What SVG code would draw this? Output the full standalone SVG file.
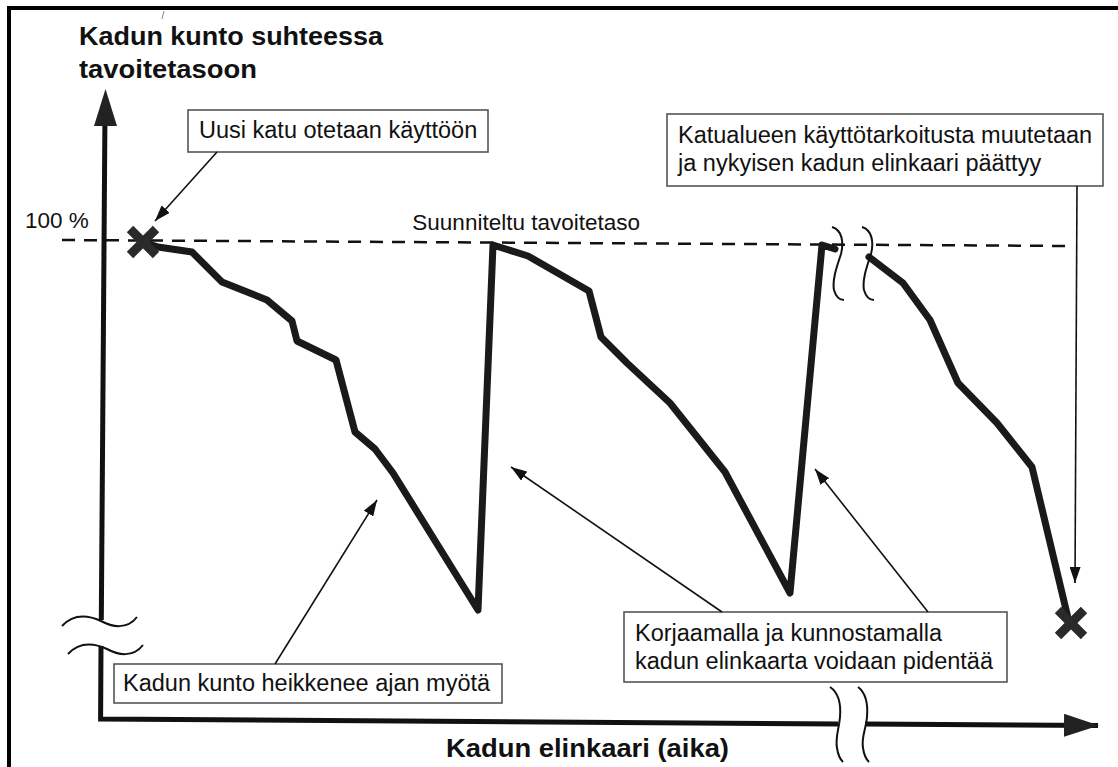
<svg xmlns="http://www.w3.org/2000/svg" width="1118" height="767" viewBox="0 0 1118 767">
  <style>
    .label { font-family: "Liberation Sans", Arial, sans-serif; font-size: 23.5px; fill: #111; }
    .small { font-family: "Liberation Sans", Arial, sans-serif; font-size: 22.5px; fill: #111; }
    .title { font-family: "Liberation Sans", Arial, sans-serif; font-size: 25px; font-weight: bold; fill: #111; }
    .box { fill: #fff; stroke: #555; stroke-width: 1.6; }
    .leader { fill: none; stroke: #111; stroke-width: 1.6; }
    .axis { fill: none; stroke: #111; stroke-width: 5; }
    .curve { fill: none; stroke: #1a1a1a; stroke-width: 7; stroke-linejoin: round; stroke-linecap: round; }
    .brk { fill: none; stroke: #111; stroke-width: 2; }
    .cross { stroke: #2a2a2a; stroke-width: 9; }
    .target { fill: none; stroke: #111; stroke-width: 2.5; stroke-dasharray: 13 9; }
  </style>
  <defs>
    <marker id="tip" markerUnits="userSpaceOnUse" viewBox="0 0 16 11" markerWidth="16" markerHeight="11" refX="16" refY="5.5" orient="auto">
      <path d="M0,0 L16,5.5 L0,11 z" fill="#111"/>
    </marker>
    <marker id="axisHead" markerUnits="userSpaceOnUse" viewBox="0 0 35 23" markerWidth="35" markerHeight="23" refX="34" refY="11.5" orient="auto">
      <path d="M0,0 L35,11.5 L0,23 z" fill="#222"/>
    </marker>
  </defs>

  <rect width="1118" height="767" fill="#fff"/>

  <!-- outer frame (left and top edges) -->
  <g id="frame">
    <line x1="9" y1="6" x2="9" y2="767" stroke="#000" stroke-width="4"/>
    <line x1="7" y1="8" x2="1118" y2="8" stroke="#000" stroke-width="4"/>
    <line x1="164" y1="11" x2="162" y2="19" stroke="#888" stroke-width="1"/>
  </g>

  <!-- axes with break marks -->
  <g id="axes">
    <path class="axis" d="M105,110 L101.3,620"/>
    <path class="axis" d="M101,646 L100.6,719 L838,724"/>
    <path class="axis" d="M865,724 L1098,725.5" marker-end="url(#axisHead)"/>
    <path d="M105.5,89 L117,126 L94,126 z" fill="#222"/>
    <path class="brk" d="M62,626 C75,612 90,616 101,621 C112,627 127,630 137,617"/>
    <path class="brk" d="M68,654 C81,640 96,644 107,649 C118,655 133,658 143,645"/>
    <path class="brk" d="M830,687 C839,693 841,705 840,717 C839,729 835,738 837,748 C838,755 841,760 843,762"/>
    <path class="brk" d="M858,687 C866,693 868,705 867,717 C866,729 861,738 863,748 C864,755 867,760 869,762"/>
    <text class="title" x="446" y="757" textLength="283" lengthAdjust="spacingAndGlyphs">Kadun elinkaari (aika)</text>
    <text class="title" x="79" y="45" textLength="304" lengthAdjust="spacingAndGlyphs">Kadun kunto suhteessa</text>
    <text class="title" x="79" y="78" textLength="178" lengthAdjust="spacingAndGlyphs">tavoitetasoon</text>
  </g>

  <!-- target level -->
  <g id="target-level">
    <line class="target" x1="62" y1="240" x2="1073" y2="246"/>
    <text class="small" x="25" y="228">100 %</text>
    <text class="small" x="640" y="230" text-anchor="end">Suunniteltu tavoitetaso</text>
  </g>

  <!-- condition curve over the life cycle -->
  <g id="condition-curve">
    <path class="curve" d="M143,242 L158,247 L192,252 L222,282 L267,300 L292,321 L297,341 L336,360 L355,432 L375,449 L393,473 L478,610 L493,245 L528,256 L589,291 L601,337 L627,363 L670,403 L725,472 L790,593 L822,245 L835,249"/>
    <path class="curve" d="M869,257 L903,283 L930,320 L958,383 L997,423 L1032,467 L1068,618"/>
    <path class="brk" d="M832,227 C842,230 844,242 841,254 C837,266 832,280 834,290 C836,297 840,300 844,300"/>
    <path class="brk" d="M862,227 C872,230 874,242 871,254 C867,266 862,280 864,290 C866,297 870,300 874,300"/>
  </g>

  <g id="start-mark">
    <line class="cross" x1="130" y1="229" x2="156" y2="255"/>
    <line class="cross" x1="156" y1="229" x2="130" y2="255"/>
  </g>
  <g id="end-mark">
    <line class="cross" x1="1058" y1="610" x2="1084" y2="636"/>
    <line class="cross" x1="1084" y1="610" x2="1058" y2="636"/>
  </g>

  <!-- callout boxes -->
  <g id="new-street">
    <rect class="box" x="188" y="110" width="300" height="42"/>
    <text class="label" x="199" y="138">Uusi katu otetaan käyttöön</text>
  </g>
  <g id="end-of-life">
    <rect class="box" x="667" y="114" width="436" height="72"/>
    <text class="label" x="678" y="143">Katualueen käyttötarkoitusta muutetaan</text>
    <text class="label" x="678" y="171">ja nykyisen kadun elinkaari päättyy</text>
  </g>
  <g id="renovation">
    <rect class="box" x="624" y="612" width="383" height="70"/>
    <text class="label" x="635" y="641">Korjaamalla ja kunnostamalla</text>
    <text class="label" x="635" y="669">kadun elinkaarta voidaan pidentää</text>
  </g>
  <g id="deterioration">
    <rect class="box" x="114" y="664" width="388" height="39"/>
    <text class="label" x="123" y="691">Kadun kunto heikkenee ajan myötä</text>
  </g>

  <!-- leader arrows -->
  <g id="connectors">
    <line class="leader" x1="217" y1="152" x2="155" y2="221" marker-end="url(#tip)"/>
    <line class="leader" x1="1077" y1="186" x2="1075" y2="583" marker-end="url(#tip)"/>
    <line class="leader" x1="275" y1="664" x2="377" y2="500" marker-end="url(#tip)"/>
    <line class="leader" x1="722" y1="612" x2="511" y2="467" marker-end="url(#tip)"/>
    <line class="leader" x1="928" y1="612" x2="815" y2="469" marker-end="url(#tip)"/>
  </g>
</svg>
